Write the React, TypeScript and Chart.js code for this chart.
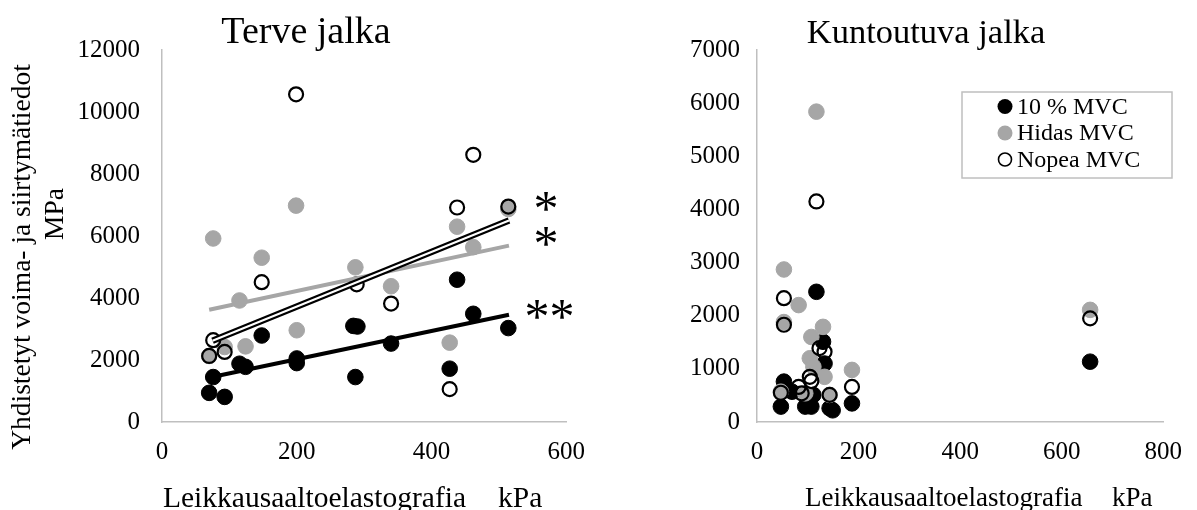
import React, { useEffect, useRef } from "react";
import { Chart, registerables } from "chart.js";
Chart.register(...registerables);

const FONT = "'Liberation Serif', 'Times New Roman', serif";
const BLACK = "#000000";
const GRAY = "#a6a6a6";
const AXIS = "#bfbfbf";

// ---------- Data: Terve jalka (left) ----------
const terveTitle = "Terve jalka";
const terveXTicks = [0, 200, 400, 600];
const terveYTicks = [0, 2000, 4000, 6000, 8000, 10000, 12000];

const terve10X = [70, 93, 76, 115, 124, 148, 200, 200, 284, 290, 287, 340, 427, 438, 462, 514];
const terve10Y = [940, 810, 1450, 1880, 1780, 2790, 2050, 1900, 3100, 3080, 1450, 2530, 1720, 4590, 3490, 3030];

const terveHidasX = [76, 148, 199, 287, 340, 115, 200, 124, 93, 70, 438, 462, 514, 427];
const terveHidasY = [5920, 5300, 6980, 4990, 4380, 3920, 2960, 2440, 2420, 2130, 6300, 5640, 6870, 2560];

const terveNopeaX = [199, 76, 93, 148, 289, 340, 438, 462, 514, 427, 70];
const terveNopeaY = [10570, 2640, 2260, 4510, 4440, 3820, 6920, 8620, 6950, 1060, 2130];

// trend line end points
const trend10X = [76, 515];
const trend10Y = [1460, 3460];
const trendHidasX = [70, 515];
const trendHidasY = [3620, 5690];
const trendNopeaX = [75, 515];
const trendNopeaY = [2620, 6500];

// significance marks (centre positions in data units)
const markX = [570, 570, 575];
const markY = [7030, 5900, 3520];
const markText = ["*", "*", "**"];

// ---------- Data: Kuntoutuva jalka (right) ----------
const kuntTitle = "Kuntoutuva jalka";
const kuntXTicks = [0, 200, 400, 600, 800];
const kuntYTicks = [0, 1000, 2000, 3000, 4000, 5000, 6000, 7000];

const kunt10X = [117, 130, 133, 53, 69, 111, 47, 95, 107, 143, 149, 187, 656];
const kunt10Y = [2450, 1510, 1100, 760, 570, 510, 290, 290, 290, 260, 220, 350, 1135];

const kuntHidasX = [117, 53, 82, 53, 130, 107, 104, 111, 133, 187, 47, 95, 143, 656];
const kuntHidasY = [5840, 2870, 2200, 1880, 1790, 1600, 1200, 1040, 850, 980, 570, 540, 510, 2110];

const kuntNopeaX = [117, 53, 53, 123, 133, 104, 107, 82, 88, 47, 143, 187, 656];
const kuntNopeaY = [4150, 2330, 1830, 1390, 1320, 850, 770, 660, 540, 550, 510, 660, 1950];

// ---------- Labels ----------
const seriesLabels = ["10 % MVC", "Hidas MVC", "Nopea MVC"];
const xTitleWord = "Leikkausaaltoelastografia";
const xTitleUnit = "kPa";
const yTitleLines = ["Yhdistetyt voima- ja siirtymätiedot", "MPa"];

const pts = (xs: number[], ys: number[]) => xs.map((x, i) => ({ x, y: ys[i] }));

function pointSets(x10: number[], y10: number[], xh: number[], yh: number[], xn: number[], yn: number[]) {
  return [
    {
      label: seriesLabels[0],
      data: pts(x10, y10),
      backgroundColor: BLACK,
      borderColor: BLACK,
      borderWidth: 1,
      pointRadius: 7.8,
      order: 6,
    },
    {
      label: seriesLabels[1],
      data: pts(xh, yh),
      backgroundColor: GRAY,
      borderColor: GRAY,
      borderWidth: 1,
      pointRadius: 7.8,
      order: 5,
    },
    {
      label: seriesLabels[2],
      data: pts(xn, yn),
      backgroundColor: "rgba(255,255,255,0)",
      borderColor: BLACK,
      borderWidth: 2.2,
      pointRadius: 7,
      order: 4,
    },
  ];
}

function lineSet(xs: number[], ys: number[], color: string, width: number, order: number) {
  return {
    label: "",
    data: pts(xs, ys),
    showLine: true,
    borderColor: color,
    backgroundColor: color,
    borderWidth: width,
    pointRadius: 0,
    borderCapStyle: "butt",
    order,
  };
}

type Overlay = {
  title: string;
  titleSize: number;
  titleX: number;
  titleY: number;
  xTitleSize: number;
  xTitleX: number;
  xUnitX: number;
  xTitleY: number;
  yTitle?: boolean;
  marks?: boolean;
  legend?: { left: number; top: number; width: number; height: number; markerX: number; textX: number; rows: number[] };
};

function overlayPlugin(o: Overlay) {
  return {
    id: "overlay",
    afterDraw(chart: any) {
      const ctx = chart.ctx as CanvasRenderingContext2D;
      ctx.save();
      ctx.fillStyle = "#000";
      // title
      ctx.font = `${o.titleSize}px ${FONT}`;
      ctx.textAlign = "center";
      ctx.textBaseline = "alphabetic";
      ctx.fillText(o.title, o.titleX, o.titleY);
      // x title
      ctx.font = `${o.xTitleSize}px ${FONT}`;
      ctx.textAlign = "left";
      ctx.fillText(xTitleWord, o.xTitleX, o.xTitleY);
      ctx.fillText(xTitleUnit, o.xUnitX, o.xTitleY);
      // y title
      if (o.yTitle) {
        ctx.font = `27.5px ${FONT}`;
        ctx.textAlign = "center";
        ctx.save();
        ctx.translate(30, 257);
        ctx.rotate(-Math.PI / 2);
        ctx.fillText(yTitleLines[0], 0, 0);
        ctx.restore();
        ctx.save();
        ctx.translate(63, 214);
        ctx.rotate(-Math.PI / 2);
        ctx.fillText(yTitleLines[1], 0, 0);
        ctx.restore();
      }
      // significance marks
      if (o.marks) {
        const xs = chart.scales.x;
        const ys = chart.scales.y;
        const S = 50;
        ctx.font = `${S}px ${FONT}`;
        ctx.textAlign = "center";
        ctx.textBaseline = "alphabetic";
        for (let i = 0; i < markText.length; i++) {
          ctx.fillText(markText[i], xs.getPixelForValue(markX[i]), ys.getPixelForValue(markY[i]) + 0.41 * S);
        }
      }
      // legend
      if (o.legend) {
        const L = o.legend;
        ctx.strokeStyle = AXIS;
        ctx.lineWidth = 1.5;
        ctx.strokeRect(L.left, L.top, L.width, L.height);
        ctx.font = `24px ${FONT}`;
        ctx.textAlign = "left";
        ctx.textBaseline = "middle";
        const sets = chart.data.datasets.filter((d: any) => seriesLabels.includes(d.label));
        sets.forEach((d: any, i: number) => {
          const y = L.rows[i];
          const open = d.label === seriesLabels[2];
          ctx.beginPath();
          ctx.arc(L.markerX, y, open ? 6.5 : 7.5, 0, Math.PI * 2);
          if (open) {
            ctx.lineWidth = 1.6;
            ctx.strokeStyle = d.borderColor;
            ctx.stroke();
          } else {
            ctx.fillStyle = d.backgroundColor;
            ctx.fill();
          }
          ctx.fillStyle = "#000";
          ctx.fillText(d.label, L.textX, y + 1);
        });
      }
      ctx.restore();
    },
  };
}

function axisCfg(min: number, max: number, ticks: number[], isX: boolean, size: number, pad: number) {
  return {
    type: "linear",
    min,
    max,
    position: isX ? "bottom" : "left",
    afterBuildTicks: (s: any) => {
      s.ticks = ticks.map((v) => ({ value: v }));
    },
    afterFit: (s: any) => {
      if (isX) s.height = size;
      else s.width = size;
    },
    ticks: {
      color: "#000",
      font: { family: FONT, size: 25 },
      padding: pad,
      maxRotation: 0,
      autoSkip: false,
      callback: (v: any) => String(v),
    },
    grid: { display: false, drawTicks: false, tickLength: 0 },
    border: { display: true, color: AXIS, width: 1.5 },
  };
}

function buildLeft(): any {
  return {
    type: "scatter",
    data: {
      datasets: [
        ...pointSets(terve10X, terve10Y, terveHidasX, terveHidasY, terveNopeaX, terveNopeaY),
        lineSet(trend10X, trend10Y, BLACK, 4, 3),
        lineSet(trendHidasX, trendHidasY, GRAY, 4, 2),
        lineSet(trendNopeaX, trendNopeaY, BLACK, 6.5, 1),
        lineSet(trendNopeaX, trendNopeaY, "#ffffff", 2, 0),
      ],
    },
    options: {
      responsive: false,
      animation: false,
      events: [],
      layout: { padding: { left: 0, right: 27, top: 50, bottom: 0 } },
      plugins: { legend: { display: false }, tooltip: { enabled: false }, title: { display: false } },
      scales: {
        x: axisCfg(0, 600, terveXTicks, true, 88, 15),
        y: axisCfg(0, 12000, terveYTicks, false, 162, 22),
      },
    },
    plugins: [
      overlayPlugin({
        title: terveTitle,
        titleSize: 38,
        titleX: 306,
        titleY: 43,
        xTitleSize: 29.5,
        xTitleX: 163,
        xUnitX: 498,
        xTitleY: 507,
        yTitle: true,
        marks: true,
      }),
    ],
  };
}

function buildRight(): any {
  return {
    type: "scatter",
    data: {
      datasets: pointSets(kunt10X, kunt10Y, kuntHidasX, kuntHidasY, kuntNopeaX, kuntNopeaY),
    },
    options: {
      responsive: false,
      animation: false,
      events: [],
      layout: { padding: { left: 0, right: 22, top: 50, bottom: 0 } },
      plugins: { legend: { display: false }, tooltip: { enabled: false }, title: { display: false } },
      scales: {
        x: axisCfg(0, 800, kuntXTicks, true, 88, 15),
        y: axisCfg(0, 7000, kuntYTicks, false, 157, 17),
      },
    },
    plugins: [
      overlayPlugin({
        title: kuntTitle,
        titleSize: 34.5,
        titleX: 326,
        titleY: 43,
        xTitleSize: 27,
        xTitleX: 205,
        xUnitX: 512,
        xTitleY: 506,
        legend: { left: 362, top: 92, width: 210, height: 86, markerX: 405, textX: 417, rows: [106.5, 133, 159.5] },
      }),
    ],
  };
}

export default function App() {
  const leftRef = useRef<HTMLCanvasElement>(null);
  const rightRef = useRef<HTMLCanvasElement>(null);
  useEffect(() => {
    const c1 = new Chart(leftRef.current as HTMLCanvasElement, buildLeft());
    const c2 = new Chart(rightRef.current as HTMLCanvasElement, buildRight());
    return () => {
      c1.destroy();
      c2.destroy();
    };
  }, []);
  return (
    <div style={{ position: "absolute", left: 0, top: 0, width: 1197, height: 510, background: "#fff", overflow: "hidden" }}>
      <canvas ref={leftRef} width={600} height={510} style={{ position: "absolute", left: 0, top: 0 }} />
      <canvas ref={rightRef} width={597} height={510} style={{ position: "absolute", left: 600, top: 0 }} />
    </div>
  );
}
